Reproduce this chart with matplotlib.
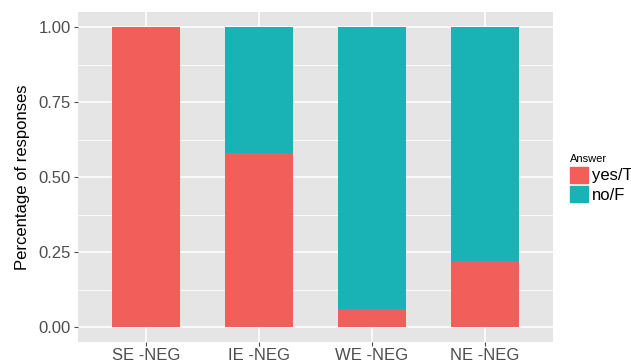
import matplotlib.pyplot as plt
import matplotlib.patches as mpatches
import numpy as np

plt.rcParams["font.family"] = ["Liberation Sans", "DejaVu Sans"]

categories = ["SE -NEG", "IE -NEG", "WE -NEG", "NE -NEG"]
yes_share = [1.00, 0.58, 0.06, 0.22]
no_share = [0.00, 0.42, 0.94, 0.78]
series_names = ["yes/T", "no/F"]

RED = "#F25F5B"
TEAL = "#19B3B6"

fig = plt.figure(figsize=(6.31, 3.63), dpi=100)
ax = fig.add_axes([78 / 631, 21 / 363, 475 / 631, 330 / 363])
ax.set_facecolor("#E5E5E5")

x = np.arange(1, len(categories) + 1)
ax.bar(x, yes_share, width=0.6, color=RED, zorder=3)
ax.bar(x, no_share, width=0.6, bottom=yes_share, color=TEAL, zorder=3)

ax.set_xlim(0.4, 4.6)
ax.set_ylim(-0.05, 1.05)

# grid like ggplot
for y in [0.125, 0.375, 0.625, 0.875]:
    ax.axhline(y, color="white", lw=0.6, zorder=1)
for y in [0, 0.25, 0.5, 0.75, 1.0]:
    ax.axhline(y, color="white", lw=1.2, zorder=1)
for xi in x:
    ax.axvline(xi, color="white", lw=1.2, zorder=1)

ax.set_xticks(x)
ax.set_xticklabels(categories)
ax.set_yticks([0, 0.25, 0.5, 0.75, 1.0])
ax.set_yticklabels(["0.00", "0.25", "0.50", "0.75", "1.00"])
ax.tick_params(colors="#4D4D4D", labelcolor="#4D4D4D", labelsize=12, length=3, width=0.8)
ax.tick_params(axis="x", pad=1.5)
ax.tick_params(axis="y", pad=2)
ax.set_ylabel("Percentage of responses", fontsize=12, color="black", labelpad=6)

for s in ax.spines.values():
    s.set_visible(False)

handles = [mpatches.Patch(color=RED, label=series_names[0]),
           mpatches.Patch(color=TEAL, label=series_names[1])]
leg = fig.legend(handles=handles, title="Answer", loc="upper left",
                 bbox_to_anchor=(570 / 631, 1 - 154 / 363), frameon=False,
                 fontsize=12, title_fontsize=8, handlelength=1.05, handleheight=1.15,
                 handletextpad=0.25, labelspacing=0.15, borderaxespad=0, borderpad=0)
leg._legend_box.align = "left"

fig.savefig("out.png", dpi=100)
